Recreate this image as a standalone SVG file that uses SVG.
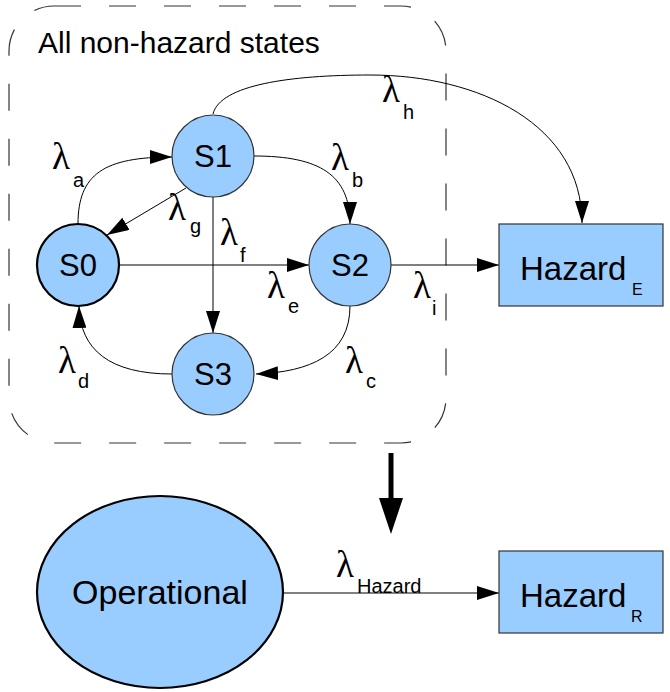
<svg xmlns="http://www.w3.org/2000/svg" width="670" height="692" viewBox="0 0 670 692">
<style>
.st{fill:#99ccff;stroke:#333;stroke-width:1.2}
.s0{fill:#99ccff;stroke:#000;stroke-width:2.2}
.lbl{font-family:"Liberation Sans",Arial,sans-serif;fill:#000}
.big{font-size:31px;text-anchor:middle}
.lam{font-family:"Liberation Serif","Times New Roman",serif;font-size:37px;fill:#000}
.sub{font-family:"Liberation Sans",Arial,sans-serif;font-size:20px;fill:#000}
.edge{fill:none;stroke:#000;stroke-width:1;marker-end:url(#ah)}
</style>
<defs>
<marker id="ah" markerUnits="userSpaceOnUse" markerWidth="22" markerHeight="14" refX="22" refY="7" orient="auto">
<path d="M0,0 L22,7 L0,14 Z" fill="#000"/>
</marker>
</defs>
<rect width="670" height="692" fill="#fff"/>

<g id="container">
<rect x="9" y="6" width="437" height="437" rx="45" ry="45" fill="none" stroke="#333" stroke-width="1.2" stroke-dasharray="27 28"/>
<text class="lbl" x="38" y="53" font-size="30">All non-hazard states</text>
</g>

<g id="connectors">
<path class="edge" d="M78,224 C78,174 104,157 172,157"/>
<path class="edge" d="M254,156 C320,156 350,175 350,224"/>
<path class="edge" d="M186,188 L107,235"/>
<path class="edge" d="M213,197 L213,333"/>
<path class="edge" d="M120,265 L309,265"/>
<path class="edge" d="M350,306 C350,355 310,372 256,374"/>
<path class="edge" d="M172,374 C110,374 80,350 79,306"/>
<path class="edge" d="M213,114 C220,85 290,75 370,75 C480,75 582,125 582,223"/>
<path class="edge" d="M391,265 L499,265"/>
<path class="edge" d="M283,593 L499,593"/>
<line x1="391" y1="453" x2="391" y2="499" stroke="#000" stroke-width="5"/>
<polygon points="379,498 403,498 391,534" fill="#000"/>

<text class="lam" x="52" y="169">λ</text><text class="sub" x="73" y="187">a</text>
<text class="lam" x="331" y="170">λ</text><text class="sub" x="352" y="187">b</text>
<text class="lam" x="168" y="220">λ</text><text class="sub" x="190" y="233">g</text>
<text class="lam" x="220" y="245">λ</text><text class="sub" x="240" y="262">f</text>
<text class="lam" x="267" y="298">λ</text><text class="sub" x="288" y="313">e</text>
<text class="lam" x="413" y="298">λ</text><text class="sub" x="432" y="315">i</text>
<text class="lam" x="58" y="373">λ</text><text class="sub" x="78" y="388">d</text>
<text class="lam" x="345" y="373">λ</text><text class="sub" x="366" y="388">c</text>
<text class="lam" x="382" y="102">λ</text><text class="sub" x="403" y="119">h</text>
<text class="lam" x="336" y="577">λ</text><text class="sub" x="357" y="593" font-size="21">Hazard</text>
</g>

<g id="S0"><circle class="s0" cx="78" cy="265" r="41"/><text class="lbl big" x="78" y="276">S0</text></g>
<g id="S1"><circle class="st" cx="213" cy="156" r="41"/><text class="lbl big" x="213" y="167">S1</text></g>
<g id="S2"><circle class="st" cx="350" cy="265" r="41"/><text class="lbl big" x="350" y="276">S2</text></g>
<g id="S3"><circle class="st" cx="213" cy="374" r="41"/><text class="lbl big" x="213" y="385">S3</text></g>

<g id="HazardE"><rect class="st" x="499" y="224" width="164" height="82"/><text class="lbl" x="520" y="280" font-size="33">Hazard</text><text class="lbl" x="632" y="295" font-size="16">E</text></g>

<g id="Operational"><ellipse class="s0" cx="160" cy="592" rx="123" ry="96"/><text class="lbl" x="160" y="604" font-size="34" text-anchor="middle">Operational</text></g>

<g id="HazardR"><rect class="st" x="499" y="551" width="164" height="82"/><text class="lbl" x="520" y="607" font-size="33">Hazard</text><text class="lbl" x="631" y="622" font-size="16">R</text></g>
</svg>
